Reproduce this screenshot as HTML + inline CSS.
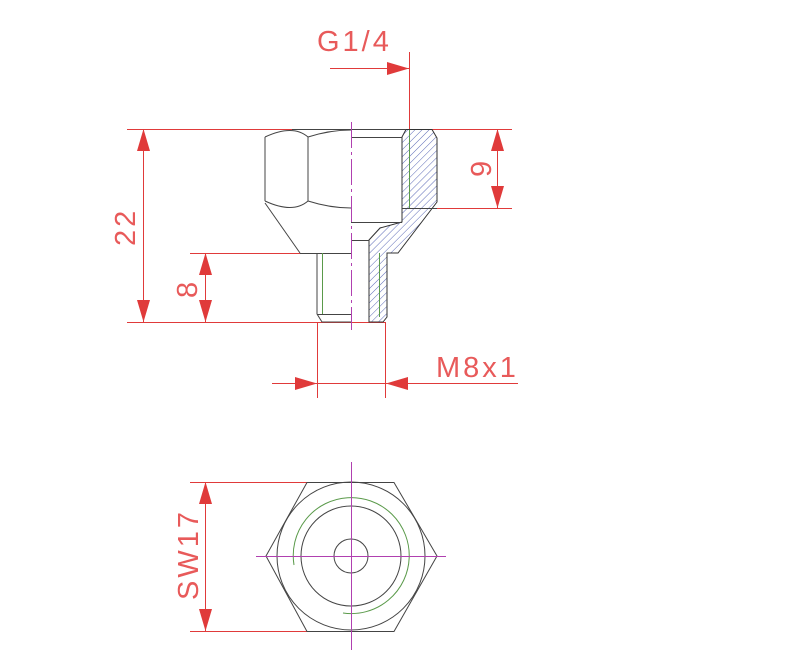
<!DOCTYPE html>
<html><head><meta charset="utf-8"><style>
html,body{margin:0;padding:0;background:#fff;}
svg{display:block}
text{font-family:"Liberation Sans",sans-serif;fill:#e85a5a;font-size:29px;letter-spacing:3px}
</style></head><body>
<svg width="805" height="660" viewBox="0 0 805 660">
<defs>
<pattern id="h" patternUnits="userSpaceOnUse" width="5" height="5" patternTransform="rotate(45)">
<line x1="0" y1="0" x2="0" y2="5" stroke="#4a5ab0" stroke-width="0.9"/>
</pattern>
</defs>
<g stroke="#e03a3a" stroke-width="1" fill="none">
<line x1="127" y1="129.5" x2="512" y2="129.5"/>
<line x1="127" y1="322.5" x2="385" y2="322.5"/>
<line x1="190" y1="253.5" x2="300" y2="253.5"/>
<line x1="437" y1="208.5" x2="512" y2="208.5"/>
<line x1="143.5" y1="129" x2="143.5" y2="322"/>
<line x1="205.5" y1="253" x2="205.5" y2="322"/>
<line x1="497.5" y1="129" x2="497.5" y2="208"/>
<line x1="409.5" y1="52" x2="409.5" y2="129"/>
<line x1="330" y1="68.5" x2="409" y2="68.5"/>
<line x1="317.5" y1="322" x2="317.5" y2="398"/>
<line x1="385.5" y1="322" x2="385.5" y2="398"/>
<line x1="272" y1="383.5" x2="518" y2="383.5"/>
<line x1="190" y1="482.5" x2="307" y2="482.5"/>
<line x1="190" y1="631.5" x2="307" y2="631.5"/>
<line x1="205.5" y1="482" x2="205.5" y2="631"/>
</g>
<g fill="#e03a3a">
<polygon points="143.5,129 137,151 150,151"/><polygon points="143.5,322 137,300 150,300"/>
<polygon points="205.5,253 199,275 212,275"/><polygon points="205.5,322 199,300 212,300"/>
<polygon points="497.5,129 491,151 504,151"/><polygon points="497.5,208 491,186 504,186"/>
<polygon points="409,68.5 387,62 387,75"/>
<polygon points="317,383.5 295,377 295,390"/><polygon points="386,383.5 408,377 408,390"/>
<polygon points="205.5,482 199,504 212,504"/><polygon points="205.5,631 199,609 212,609"/>
</g>
<text x="317" y="51">G1/4</text>
<text x="436" y="377">M8x1</text>
<text transform="translate(135,246) rotate(-90)">22</text>
<text transform="translate(197,298) rotate(-90)">8</text>
<text transform="translate(491,177) rotate(-90)">9</text>
<text transform="translate(198,600) rotate(-90)">SW17</text>
<polygon points="402,137 406,129.5 432,129.5 437,138 437,202 398,253 387,253 387,317 383,322 369,322 369,240 380,228 402,222" fill="url(#h)" stroke="#333" stroke-width="1"/>
<g stroke="#444" stroke-width="1" fill="none">
<line x1="292" y1="129.5" x2="406" y2="129.5"/>
<path d="M265,137 Q293,124 308,137 Q330,130 351,130"/>
<path d="M265,201 Q293,214 308,201 Q330,208 351,208"/>
<line x1="265" y1="137" x2="265" y2="201"/>
<line x1="308" y1="137" x2="308" y2="201"/>
<line x1="265" y1="203" x2="300" y2="253"/>
<line x1="300" y1="253.5" x2="351" y2="253.5"/>
<polyline points="317,253 317,314 322,322 351,322"/>
<line x1="317" y1="314.5" x2="351" y2="314.5"/>
<polyline points="351,137.5 402,137.5"/>
<line x1="351" y1="222.5" x2="402" y2="222.5"/>
<line x1="351" y1="240.5" x2="369" y2="240.5"/>
<line x1="402" y1="208.5" x2="437" y2="208.5"/>
</g>
<g stroke="#5a9a4a" stroke-width="1">
<line x1="409.5" y1="130" x2="409.5" y2="208"/>
<line x1="379.5" y1="253" x2="379.5" y2="317"/>
<line x1="322.5" y1="253" x2="322.5" y2="314"/>
</g>
<line x1="351.5" y1="122" x2="351.5" y2="330" stroke="#b040b0" stroke-width="1" stroke-dasharray="26,4,3,4"/>
<g stroke="#444" stroke-width="1" fill="none">
<polygon points="307,482.5 394,482.5 437,556 394,631.5 307,631.5 266,556"/>
<circle cx="351" cy="556" r="74"/>
<circle cx="351" cy="556" r="50"/>
<circle cx="351" cy="556" r="17"/>
</g>
<path d="M294,565 A58,58 0 1 1 343,613" stroke="#5a9a4a" stroke-width="1" fill="none"/>
<g stroke="#b040b0" stroke-width="1">
<line x1="256" y1="556.5" x2="446" y2="556.5"/>
<line x1="351.5" y1="462" x2="351.5" y2="650"/>
</g>
</svg>
</body></html>
